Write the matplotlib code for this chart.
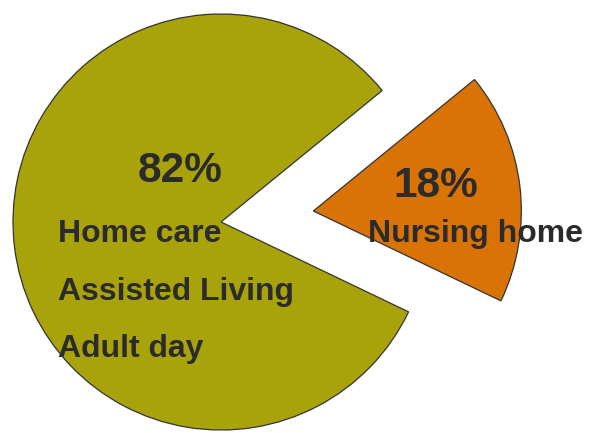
import matplotlib
matplotlib.use("Agg")
import matplotlib.pyplot as plt

# Data
categories = ["Nursing home", "Home care / Assisted Living / Adult day"]
values = [18, 82]
colors = ["#D97305", "#A9A30B"]
label_lines_big = ["Home care", "Assisted Living", "Adult day"]
label_small = "Nursing home"

W, H = 589, 433
fig = plt.figure(figsize=(W / 100, H / 100), dpi=100)
ax = fig.add_axes([0, 0, 1, 1])

def py(y):
    return H - y

ax.pie(values, colors=colors, startangle=-25.6, counterclock=True,
       center=(221, py(222)), radius=208, explode=[93, 0],
       wedgeprops=dict(edgecolor="#333333", linewidth=0.9),
       frame=True)
ax.set_xlim(0, W)
ax.set_ylim(0, H)
ax.set_aspect("equal")
ax.axis("off")

txt = "#2B2B2B"
fam = ["Liberation Sans", "DejaVu Sans"]
ax.text(180, py(182), f"{values[1]}%", ha="center", va="baseline",
        fontsize=30.5, fontweight="bold", color=txt, family=fam)
for line, yb in zip(label_lines_big, [242, 300, 357]):
    ax.text(58, py(yb), line, ha="left", va="baseline",
            fontsize=23, fontweight="bold", color=txt, family=fam)
ax.text(436, py(197), f"{values[0]}%", ha="center", va="baseline",
        fontsize=30.5, fontweight="bold", color=txt, family=fam)
ax.text(476, py(242), label_small, ha="center", va="baseline",
        fontsize=23, fontweight="bold", color=txt, family=fam)

fig.savefig("out.png", dpi=100)
